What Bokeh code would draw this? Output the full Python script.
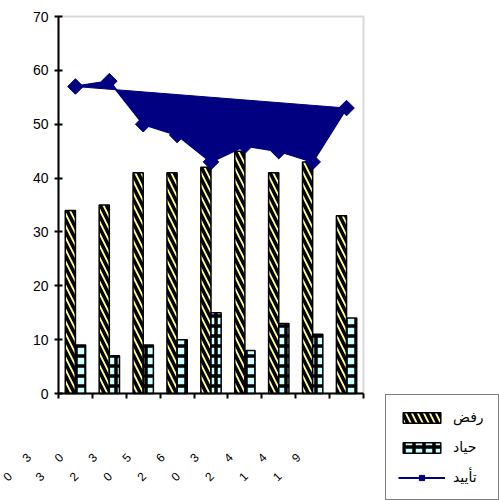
from math import pi
from bokeh.plotting import figure
from bokeh.models import (ColumnDataSource, Range1d, FixedTicker, Legend, LegendItem,
                          BoxAnnotation, LinearAxis)
from bokeh.transform import dodge
from bokeh.embed import file_html
from bokeh.resources import INLINE

# ---- data ----
category_labels = ["0 3", "3 0", "2 3", "0 5", "2 6", "0 3", "2 4", "1 4", "1 9"]
reject = [34, 35, 41, 41, 42, 45, 41, 43, 33]    # رفض
neutral = [9, 7, 9, 10, 15, 8, 13, 11, 14]       # حياد
support = [57, 58, 50, 48, 43, 46, 45, 43, 53]   # تأييد
y_ticks = [0, 10, 20, 30, 40, 50, 60, 70]
series_names = ["رفض", "حياد", "تأييد"]

# ---- layout (pixels on the 499x500 canvas) ----
W, H = 499, 500
PL, PR, PT, PB = 58, 363, 16, 393          # plot-area edges
n = len(category_labels)
YMAX = y_ticks[-1]
ux = (PR - PL) / n
uy = (PB - PT) / YMAX
x0, x1 = 0.5 - PL / ux, n + 0.5 + (W - PR) / ux
y0, y1 = -(H - PB) / uy, YMAX + PT / uy

NB = "\u00a0"
xs = list(range(1, n + 1))
src = ColumnDataSource(dict(x=xs, reject=reject, neutral=neutral, support=support))

p = figure(width=W, height=H, x_range=Range1d(x0, x1), y_range=Range1d(y0, y1),
           output_backend="svg", toolbar_location=None, min_border=0)
p.background_fill_color = "white"
p.border_fill_color = "white"
p.outline_line_color = None
p.xgrid.visible = False
p.ygrid.visible = False

# plot-area border (grey top/right)
p.add_layout(BoxAnnotation(left=0.5, right=n + 0.5, bottom=0, top=YMAX, fill_alpha=0,
                           line_color="#808080", line_width=2, level="underlay"))

# y axis
ya = p.yaxis[0]
ya.fixed_location = 0.5
ya.bounds = (0, YMAX)
ya.ticker = FixedTicker(ticks=y_ticks)
ya.major_tick_in = 4
ya.major_tick_out = 4
ya.minor_tick_line_color = None
ya.axis_line_width = 2
ya.axis_line_color = "black"
ya.major_tick_line_width = 2
ya.major_tick_line_color = "black"
ya.major_label_text_font = "Liberation Sans"
ya.major_label_text_font_size = "14px"
ya.major_label_text_color = "black"
ya.major_label_standoff = 6

# x axis: ticks on category boundaries
bounds = [i + 0.5 for i in range(0, n + 1)]
xa = p.xaxis[0]
xa.fixed_location = 0
xa.bounds = (0.5, n + 0.5)
xa.ticker = FixedTicker(ticks=bounds)
xa.major_label_overrides = {b: "" for b in bounds}
xa.major_tick_in = 0
xa.major_tick_out = 5
xa.minor_tick_line_color = None
xa.axis_line_width = 2
xa.axis_line_color = "black"
xa.major_tick_line_width = 2
xa.major_tick_line_color = "black"

# rotated category labels: a second axis on a shifted range (labels sit left of their bars)
shift = 48 / ux
p.extra_x_ranges = {"lab": Range1d(x0 + shift, x1 + shift)}
lab_axis = LinearAxis(x_range_name="lab", fixed_location=0,
                      ticker=FixedTicker(ticks=xs),
                      major_label_overrides={x: t.replace(" ", NB * 6)
                                             for x, t in zip(xs, category_labels)})
lab_axis.axis_line_color = None
lab_axis.major_tick_line_color = None
lab_axis.minor_tick_line_color = None
lab_axis.major_tick_in = 0
lab_axis.major_tick_out = 0
lab_axis.major_label_orientation = pi / 4
lab_axis.major_label_standoff = 62
lab_axis.major_label_text_font = "Liberation Sans"
lab_axis.major_label_text_font_size = "12px"
lab_axis.major_label_text_color = "black"
p.add_layout(lab_axis, "below")

r_rej = p.vbar(x=dodge("x", -0.15, range=p.x_range), top="reject", width=0.3, source=src,
               fill_color="#FFFF99", line_color="black", line_width=1.5,
               hatch_pattern="\\", hatch_color="black", hatch_weight=3.5, hatch_scale=12)
r_neu = p.vbar(x=dodge("x", 0.15, range=p.x_range), top="neutral", width=0.3, source=src,
               fill_color="#CCFFFF", line_color="black", line_width=1.5,
               hatch_pattern="+", hatch_color="black", hatch_weight=3.5, hatch_scale=10)

navy = "#000080"
p.patch(x="x", y="support", source=src, fill_color=navy, line_color=navy, line_width=1)
r_line = p.line(x="x", y="support", source=src, line_color=navy, line_width=2)
r_pts = p.scatter(x="x", y="support", source=src, marker="square", angle=pi / 4, size=11,
                  fill_color=navy, line_color=navy)

legend = Legend(items=[LegendItem(label=series_names[0], renderers=[r_rej]),
                       LegendItem(label=series_names[1], renderers=[r_neu]),
                       LegendItem(label=series_names[2], renderers=[r_line, r_pts])],
                location=(385, 0))
legend.glyph_width = 47
legend.glyph_height = 13
legend.label_height = 20
legend.label_width = 33
legend.label_standoff = 8
legend.spacing = 10
legend.padding = 12
legend.margin = 0
legend.border_line_color = "black"
legend.border_line_width = 1.5
legend.background_fill_color = "white"
legend.background_fill_alpha = 1
legend.label_text_font = "DejaVu Sans"
legend.label_text_font_size = "14px"
legend.label_text_color = "black"
p.add_layout(legend, "center")

open("out.html", "w").write(file_html(p, INLINE))
